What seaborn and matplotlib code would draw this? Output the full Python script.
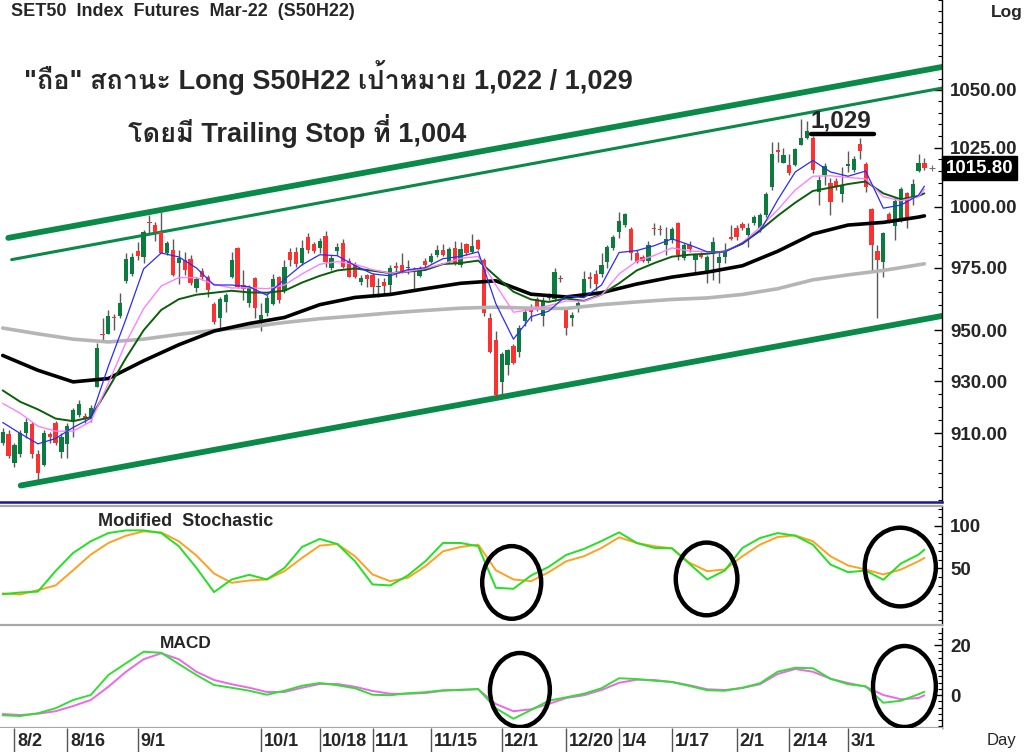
import numpy as np
import pandas as pd
import matplotlib
matplotlib.use('Agg')
import matplotlib.pyplot as plt
import matplotlib.transforms as mtransforms
from matplotlib import font_manager
from matplotlib.ft2font import FT2Font
from matplotlib.patches import Ellipse
from matplotlib.ticker import FixedLocator, NullFormatter, MultipleLocator
import seaborn as sns

# ---------------- datos ----------------
opens = [906.3, 909.6, 898.8, 902.3, 910, 913.5, 902.3, 898.1, 909.6, 913.8,
         903.1, 905.8, 915, 916.9, 916.5, 916.2, 927.7, 948.5, 948.5, 955.3,
         955.7, 969.7, 972.5, 982, 979.5, 993.9, 992.6, 989.8, 981.1, 982.4,
         977.1, 978.3, 978.7, 966.8, 973.8, 971.3, 960.2, 954.9, 961.1, 971.3,
         983.2, 968, 960.7, 970.9, 952.9, 956.6, 960.2, 971.3, 965.6, 981.6,
         981.6, 977.1, 987.7, 984.8, 983.2, 988.1, 975, 982, 985.2, 977.9,
         976.6, 969.3, 972.1, 972.1, 967.2, 969.3, 968, 975.8, 976.2, 975,
         974.6, 971.7, 977.9, 977.5, 980.3, 982.4, 977.5, 983.2, 976.2, 984.8,
         981.6, 986.5, 978.3, 954.9, 946.2, 929.6, 936.2, 943.8, 941.5, 953.7,
         959, 962.3, 955.7, 962.7, 962.3, 970.9, 958.2, 954.9, 958.6, 963.1,
         971.3, 972.5, 972.5, 977.5, 983.2, 989.8, 992.6, 991, 981.1, 979.5,
         977.9, 991.4, 991, 984.4, 986.5, 993.4, 979.1, 984.4, 978.3, 980.3,
         973.8, 980.7, 977.1, 979.5, 987.7, 991.4, 993, 988.5, 993.4, 991.4,
         996.7, 1008.3, 1024.2, 1018.3, 1017.5, 1017.5, 1026.3, 1029.2, 1029.2, 1006.3,
         1013.3, 1010, 1010.8, 1005.4, 1017.1, 1015.4, 1026.7, 1017.9, 999.2, 982,
         977.5, 997.1, 992.2, 995.1, 1005.8, 1003.8, 1015, 1018.3]
closes = [910.5, 901.5, 905.4, 910, 914.2, 902.3, 895, 910, 908.5, 906.2,
          908.5, 912.7, 918.8, 921.2, 915.4, 919.6, 943.1, 948.1, 955.7, 954.9,
          960.7, 978.7, 979.5, 979.9, 989.8, 993.4, 989.8, 981.1, 985.2, 972.1,
          979.1, 974.2, 968.9, 970.5, 971.3, 966, 953, 962.3, 963.9, 978.3,
          967.2, 966.4, 966.8, 958.6, 956.1, 962.7, 970.5, 961.9, 975.4, 978.3,
          976.6, 983.2, 982.4, 982, 986.1, 977.5, 979.1, 983.6, 975.4, 971.3,
          971.3, 970.9, 970.5, 967.2, 967.6, 967.6, 975, 975, 973.4, 975.4,
          974.2, 975, 976.2, 979.9, 982.4, 980.3, 982.8, 977.1, 982.8, 981.1,
          984, 982.8, 956.6, 941.2, 924.6, 940.4, 942.3, 936.9, 950.8, 957,
          957, 959, 961.5, 963.9, 973.4, 970.5, 950.8, 956.1, 960.7, 970.5,
          970.5, 968.4, 976.2, 983.6, 987.7, 994.3, 997.1, 981.1, 977.5, 977.9,
          984.4, 991, 990.6, 986.9, 991, 980.3, 984.4, 982.8, 980.3, 979.5,
          979.5, 985.7, 979.5, 981.6, 986.9, 987.7, 991.4, 991.4, 995.9, 996.7,
          1005.4, 1022.5, 1023.3, 1021.7, 1014.2, 1024.6, 1029.2, 1032.2, 1015.4, 1011.3,
          1017.1, 1002.1, 1008.3, 1008.8, 1017.9, 1020.4, 1023.8, 1008.3, 984.4, 978.3,
          989.3, 994.7, 1002.5, 1007.5, 995.9, 1009.6, 1018.3, 1016.2]
highs = [911.9, 911.2, 906.2, 911.2, 915.8, 914.2, 903.5, 911.2, 910.4, 914.6,
         910, 913.8, 919.6, 922.7, 917.7, 920.8, 945, 954.9, 957.8, 956.5,
         964.8, 981.1, 981.1, 985.7, 990.6, 996.7, 993.9, 998, 986.1, 986.9,
         982.4, 981.6, 980.3, 971.3, 975, 972.1, 961.1, 963.1, 964.8, 981.6,
         983.6, 974.2, 968, 971.3, 960.7, 963.9, 972.5, 971.7, 978.3, 983.2,
         983.6, 986.5, 989.3, 985.7, 987.3, 990.2, 980.3, 985.2, 986.9, 979.1,
         977.5, 972.1, 972.5, 973, 970.9, 970.9, 976.2, 977.5, 981.1, 978.3,
         975.4, 975.8, 979.1, 981.1, 984.4, 984.8, 983.6, 986.1, 985.7, 985.2,
         988.9, 986.9, 979.1, 956.6, 949.6, 941.2, 942.7, 944.6, 952.1, 959,
         960.2, 963.1, 963.1, 964.8, 975, 972.1, 959, 957, 961.5, 973.8,
         973.4, 974.2, 981.1, 984.4, 988.5, 998, 997.5, 991.8, 982.4, 980.3,
         986.1, 993.4, 992.6, 991.8, 991.8, 993.9, 985.2, 986.1, 981.1, 981.6,
         980.3, 987.7, 981.6, 985.2, 992.6, 992.6, 993.9, 993.4, 996.7, 997.5,
         1006.3, 1027.5, 1027.5, 1025, 1022.5, 1025, 1037.2, 1036.4, 1030.1, 1012.9,
         1018.3, 1012.1, 1012.1, 1016.7, 1023.8, 1021.3, 1029.2, 1018.8, 999.6, 984.4,
         989.8, 998, 1004.2, 1008.3, 1006.3, 1011.7, 1022.5, 1020.8]
lows = [905.4, 900.8, 897.3, 901.1, 908.1, 900.8, 891.9, 897.7, 906.2, 905.4,
        900.8, 900.8, 908.5, 916.2, 913.8, 914.2, 927.7, 945.8, 948.5, 950,
        954.9, 968.9, 971.7, 978.3, 977.1, 989.3, 986.1, 981.1, 980.3, 971.7,
        968.4, 972.1, 968, 965.2, 970.1, 963.1, 952.5, 950.8, 957, 970.9,
        966.8, 961.9, 959, 954.9, 949.6, 955.7, 959.8, 960.7, 964.8, 975.8,
        975.4, 976.2, 981.1, 981.1, 981.1, 975.4, 974.2, 980.3, 975, 971.3,
        970.9, 968, 967.2, 963.1, 963.1, 963.9, 964.3, 971.3, 973, 972.5,
        966.4, 971.3, 975.4, 977.1, 979.5, 979.9, 977.1, 976.2, 975.4, 980.3,
        981.1, 982.4, 955.7, 940.8, 923.8, 924.6, 932.3, 936.5, 939.2, 951.6,
        953.7, 957.4, 951.6, 961.9, 961.5, 969.3, 948.1, 951.6, 957, 963.1,
        966.8, 966, 971.3, 975, 982.4, 987.3, 991.8, 978.3, 977.1, 977.5,
        977.1, 988.5, 988.5, 980.3, 985.2, 978.3, 978.3, 981.6, 973.4, 979.1,
        968.9, 970.1, 968.9, 977.1, 986.5, 986.5, 990.6, 983.6, 992.6, 989.8,
        995.9, 1007.1, 1018.8, 1018.3, 1013.3, 1017.1, 1026.3, 1028.8, 1014.2, 1000.8,
        1009.2, 996.7, 1007.1, 1002.1, 1014.6, 1014.6, 1020.4, 1006.3, 974.2, 954.9,
        971.3, 993.4, 986.5, 993.9, 991.4, 1000.8, 1014.6, 1015.4]

# promedios moviles (cada 3 velas / cada 6 velas)
idx3 = list(range(0, 157, 3)) + [157]
idx6 = list(range(0, 157, 6)) + [157]
ma_azul = [914.1, 909.9, 906, 908, 912.2, 915.7, 935.8, 954.4, 974.5, 981, 979.4, 974.9, 968, 968,
           967.3, 963.9, 970.3, 976.2, 980.3, 979.9, 975.9, 972.5, 971.7, 974.2, 975, 978.7, 979.6, 981.5,
           960.5, 946.4, 955.3, 957.5, 963.7, 962.9, 968, 981.2, 982, 984, 986.8, 984.3, 981.5,
           981.4, 985.1, 989.9, 1002.9, 1014.7, 1019.6, 1014.7, 1012.9, 1015.1, 999.5, 1000.8, 1004.9, 1008.7]
ma_rosa = [921.4, 917.6, 912.7, 910.8, 910.8, 914.5, 929.1, 945.1, 958.5, 967.6, 971, 971, 968.3, 966.8,
           966.9, 966.5, 968, 972.5, 976.4, 977.5, 976.4, 974.2, 972.8, 973.5, 974.7, 976.6, 978.8, 979.6,
           968, 957.1, 958.1, 959.7, 961.6, 961.5, 963.9, 972.5, 977.6, 980, 983.1, 981.8, 981.5,
           981.5, 985.3, 991.5, 998.8, 1007.1, 1012.9, 1013.1, 1012.4, 1011.8, 1004.3, 1002.6, 1004.3, 1007.4]
ma_verde = [926.4, 922, 919.1, 915.6, 914.6, 916.1, 927.2, 939, 949.9, 958, 962.3, 964.1, 964.9, 965.7,
            965, 964.9, 965.7, 969, 971.7, 973.9, 974.7, 973.8, 972.8, 973.4, 974.1, 976.5, 976.9, 977.9,
            971.5, 965.3, 962.2, 961.2, 962.6, 961.6, 964.2, 968.7, 973.9, 976.9, 979.5, 980.3, 980.7,
            981.7, 984.8, 990.3, 996.3, 1001.8, 1006.7, 1008.1, 1009.6, 1010.7, 1005.7, 1003.2, 1004.6, 1005.7]
ma_negra = [940, 934.2, 929.7, 931, 937.9, 944.2, 949.6, 952.6, 955, 960.1, 963, 964.2, 966.5, 968.7,
            969.7, 964.3, 963.2, 964.9, 968.4, 971.2, 973.2, 975.8, 981.7, 988.8, 992.5, 993.6, 995.8, 996.3]
ma_gris = [950.8, 948.5, 946.4, 945.3, 946.4, 948.3, 949.9, 951.2, 953, 954.5, 955.6, 956.8, 957.8, 958.7,
           959.1, 958.7, 958.6, 960.1, 961.2, 962.2, 962.8, 964.2, 966.5, 970.1, 972.1, 973.9, 976.2, 976.6]

# indicadores
stoch_k = [20, 22, 23, 47, 68.2, 81.8, 91.4, 94.5, 94.5, 91.4, 76, 50.7, 22.4, 37.2, 42.6, 37.2, 50.7, 75.2,
           84.5, 78.6, 58.5, 31.4, 30.2, 41.8, 58.5, 79.8, 79.8, 76,
           27.5, 26.3, 41.8, 51.9, 65.9, 72.8, 82.1, 92.2, 79.8, 74, 73.6, 55.4, 37.2, 47.6, 74, 85.6,
           91.4, 88.3, 77.9, 54.6, 45.7, 47.6, 36.8, 55.8, 66.2, 72]
stoch_d = [20.9, 19.7, 24.8, 30.2, 48, 66.2, 79.8, 88.3, 93.4, 92.2, 81.8, 65.1, 44.1, 33.3, 36, 37.2, 46.9,
           62.4, 76.7, 78.6, 64.3, 43, 35.2, 39.1, 52.7, 70.1, 75.2, 77.9,
           48, 37.2, 35.2, 45.7, 58.5, 64.3, 74, 86.4, 79.8, 76, 73.6, 56.6, 46.9, 48.8, 64.3, 77.9,
           86.8, 88.7, 81.8, 64.3, 53.5, 48.8, 43, 48.8, 58.5, 62.4]
macd = [-8.1, -8.4, -7.3, -5.3, -2, 0, 8, 12.7, 17.3, 16.9, 12.4, 8, 4, 2.9, 1.7, 0.1, 1.7, 3.7, 4.8, 3.9,
        2.7, 0.1, -0.1, 0.7, 1.1, 1.9, 2, 2.4,
        -5.3, -9.5, -6, -2.3, -0.9, 0.5, 2.7, 6.7, 6.4, 5.7, 5.2, 3.6, 1.9, 1.7, 2.9, 4.7, 9.3, 10.9,
        10.7, 6.5, 4.3, 3.5, -3.1, -2.3, 0.3, 1.3]
macd_signal = [-7.6, -8, -7.5, -6.5, -4.4, -2, 3.3, 9.3, 14.3, 16.7, 14.3, 9.3, 6, 4.3, 2.9, 1.2, 1.2, 2.9,
               4.4, 4.4, 3.3, 1.6, 0.5, 0.5, 0.8, 1.7, 2.1, 2.3,
               -3.6, -6.5, -5.7, -3.6, -1.2, -0.1, 2, 4.9, 6.1, 6, 5.2, 3.9, 2.3, 2, 2.8, 4.3, 8.4,
               10.4, 9.3, 6.5, 4.8, 3.3, 0, -1.7, -1.2, -0.1]

# lineas de tendencia (indice de vela, precio)
tend_sup_x, tend_sup_y = [0.95, 160], [987.2, 1060.1]
tend_sup2_x, tend_sup2_y = [1.53, 160], [978.3, 1050.8]
tend_inf_x, tend_inf_y = [3.07, 160], [890.4, 955.6]

fechas = ['8/2', '8/16', '9/1', '10/1', '10/18', '11/1', '11/15', '12/1', '12/20', '1/4', '1/17',
          '2/1', '2/14', '3/1']
fechas_pos = [2, 11, 23, 44, 54, 63, 73, 85, 96, 105, 114, 125, 134, 144]

precio_ticks = [910, 930, 950, 975, 1000, 1025, 1050]
ultimo = 1016.2


def buscar_fuente_tailandesa():
    """busca una fuente instalada que tenga glifos tailandeses"""
    for f in font_manager.fontManager.ttflist:
        try:
            cmap = FT2Font(f.fname).get_charmap()
        except Exception:
            continue
        if 0x0E16 in cmap and 0x0E37 in cmap and 0x0E49 in cmap:
            return f.name
    return None


sns.set_style('white')
thai = buscar_fuente_tailandesa()
plt.rcParams['font.family'] = ['Liberation Sans'] + ([thai] if thai else []) + ['DejaVu Sans']

W, H = 1024, 752
fig = plt.figure(figsize=(W / 100, H / 100), dpi=100)
ax_w = 942 / W


def caja(top, bottom):
    return [0, 1 - bottom / H, ax_w, (bottom - top) / H]


ax = fig.add_axes(caja(0, 502))
ax_st = fig.add_axes(caja(506, 625), sharex=ax)
ax_md = fig.add_axes(caja(628, 728), sharex=ax)
ax_dt = fig.add_axes(caja(728, 752), sharex=ax)

verde_vela = '#0a7d3e'
rojo_vela = '#ff3030'
verde_tend = '#0a8a48'

# ---------------- panel de precio ----------------
ax.set_yscale('log')
o = np.array(opens); c = np.array(closes); hi = np.array(highs); lo = np.array(lows)
x = np.arange(len(o))
sube = c >= o
base = np.minimum(o, c)
alto = np.maximum(np.abs(c - o), 0.45)

ax.plot(tend_sup_x, tend_sup_y, color=verde_tend, lw=4.2, solid_capstyle='round', zorder=1)
ax.plot(tend_sup2_x, tend_sup2_y, color=verde_tend, lw=2.2, solid_capstyle='round', zorder=1)
ax.plot(tend_inf_x, tend_inf_y, color=verde_tend, lw=4.2, solid_capstyle='round', zorder=1)

ax.vlines(x, lo, hi, color='#5a5a5a', lw=1.0, zorder=2)
ax.bar(x[sube], alto[sube], bottom=base[sube], width=0.72, color=verde_vela, lw=0, zorder=3)
ax.bar(x[~sube], alto[~sube], bottom=base[~sube], width=0.72, color=rojo_vela, lw=0, zorder=3)

df3 = pd.DataFrame({'idx': idx3, 'azul': ma_azul, 'rosa': ma_rosa, 'verde': ma_verde,
                    'k': stoch_k, 'd': stoch_d, 'macd': macd, 'senal': macd_signal})
df6 = pd.DataFrame({'idx': idx6, 'negra': ma_negra, 'gris': ma_gris})

sns.lineplot(data=df6, x='idx', y='gris', ax=ax, color='#b5b5b5', lw=2.6, zorder=4)
sns.lineplot(data=df6, x='idx', y='negra', ax=ax, color='black', lw=2.6, zorder=4)
sns.lineplot(data=df3, x='idx', y='verde', ax=ax, color='#0b5e0b', lw=1.4, zorder=4)
sns.lineplot(data=df3, x='idx', y='rosa', ax=ax, color='#ff80ff', lw=1.0, zorder=4)
sns.lineplot(data=df3, x='idx', y='azul', ax=ax, color='#2a2aff', lw=0.9, zorder=4)

ax.plot([137.7, 148.4], [1031, 1031], color='black', lw=3.2, zorder=5)
ax.plot([158.3], [ultimo], marker='+', color='#707070', ms=4, mew=0.8, zorder=5)

ax.set_xlim(-0.46, 160)
ax.set_ylim(884.3, 1090.1)

# ---------------- estocastico ----------------
sns.lineplot(data=df3, x='idx', y='d', ax=ax_st, color='#ffa020', lw=1.4)
sns.lineplot(data=df3, x='idx', y='k', ax=ax_st, color='#22e022', lw=1.4)
ax_st.set_ylim(-16, 123)
for (cx, cy, ew, eh) in [(86.7, 33.7, 10.05, 84.9), (119.9, 37.8, 10.5, 84.9), (152.9, 51.7, 12.1, 91.9)]:
    ax_st.add_patch(Ellipse((cx, cy), ew, eh, fill=False, ec='black', lw=3.2, zorder=6))

# ---------------- MACD ----------------
sns.lineplot(data=df3, x='idx', y='senal', ax=ax_md, color='#ee66ee', lw=1.4)
sns.lineplot(data=df3, x='idx', y='macd', ax=ax_md, color='#33dd33', lw=1.4)
ax_md.set_ylim(-13.2, 26.8)
for (cx, cy, ew, eh) in [(88.1, 2.0, 10.2, 29.6), (153.6, 3.4, 10.7, 32.4)]:
    ax_md.add_patch(Ellipse((cx, cy), ew, eh, fill=False, ec='black', lw=3.2, zorder=6))

# ---------------- ejes ----------------
for a in (ax, ax_st, ax_md, ax_dt):
    a.set_xlabel('')
    a.set_ylabel('')
    a.set_facecolor('white')
    for s in a.spines.values():
        s.set_visible(False)
    a.tick_params(axis='x', which='both', bottom=False, top=False, labelbottom=False)

for a in (ax, ax_st, ax_md):
    a.yaxis.tick_right()
    a.spines['right'].set_visible(True)
    a.spines['right'].set_color('black')
    a.spines['right'].set_linewidth(1.0)
    a.tick_params(axis='y', which='major', direction='in', length=6, width=1, color='black',
                  pad=6, labelsize=13.5)
    a.tick_params(axis='y', which='minor', direction='in', length=3, width=0.8, color='black')

ax.spines['bottom'].set_visible(True)
ax.spines['bottom'].set_color('#1515a0')
ax.spines['bottom'].set_linewidth(1.8)
for s in ('top', 'bottom'):
    ax_st.spines[s].set_visible(True)
    ax_st.spines[s].set_color('#a8a8a8')
    ax_st.spines[s].set_linewidth(1.6)
ax_md.spines['bottom'].set_visible(True)
ax_md.spines['bottom'].set_color('#a8a8a8')
ax_md.spines['bottom'].set_linewidth(1.6)

ax.yaxis.set_major_locator(FixedLocator(precio_ticks))
ax.yaxis.set_minor_locator(MultipleLocator(5))
ax.yaxis.set_minor_formatter(NullFormatter())
ax.set_yticklabels([f'{p:.2f}' for p in precio_ticks], fontweight='bold')

ax_st.yaxis.set_major_locator(FixedLocator([50, 100]))
ax_st.yaxis.set_minor_locator(MultipleLocator(10))
ax_st.set_yticklabels(['50', '100'], fontweight='bold')

ax_md.yaxis.set_major_locator(FixedLocator([0, 20]))
ax_md.yaxis.set_minor_locator(MultipleLocator(2.5))
ax_md.set_yticklabels(['0', '20'], fontweight='bold')

# etiqueta de ultimo precio
tr = mtransforms.blended_transform_factory(ax.transAxes, ax.transData)
ax.text(1.004, ultimo, '1015.80', transform=tr, ha='left', va='center', color='white',
        fontsize=13.5, fontweight='bold', zorder=10,
        bbox=dict(facecolor='black', edgecolor='black', pad=2.5))

# fechas
ax_dt.set_ylim(0, 1)
ax_dt.set_yticks([])
ax_dt.vlines(fechas_pos, 0, 1, color='#555555', lw=1.0)
for p, lab in zip(fechas_pos, fechas):
    ax_dt.text(p + 0.45, 0.42, lab, ha='left', va='center', fontsize=13, fontweight='bold')

# textos
fig.text(11 / W, 1 - 12 / H, 'SET50  Index  Futures  Mar-22  (S50H22)', ha='left', va='center',
         fontsize=13, fontweight='bold')
fig.text(991 / W, 1 - 12 / H, 'Log', ha='left', va='center', fontsize=12.5, fontweight='bold')
fig.text(328 / W, 1 - 78 / H, '"ถือ" สถานะ Long S50H22 เป้าหมาย 1,022 / 1,029', ha='center',
         va='center', fontsize=19.5, fontweight='bold')
fig.text(297 / W, 1 - 131 / H, 'โดยมี Trailing Stop ที่ 1,004', ha='center', va='center',
         fontsize=19.5, fontweight='bold')
fig.text(841 / W, 1 - 121 / H, '1,029', ha='center', va='center', fontsize=17.5, fontweight='bold')
fig.text(98 / W, 1 - 522 / H, 'Modified  Stochastic', ha='left', va='center', fontsize=13,
         fontweight='bold')
fig.text(160 / W, 1 - 643 / H, 'MACD', ha='left', va='center', fontsize=12.5, fontweight='bold')
fig.text(987 / W, 1 - 740 / H, 'Day', ha='left', va='center', fontsize=12)

fig.savefig('out.png', dpi=100, facecolor='white')
